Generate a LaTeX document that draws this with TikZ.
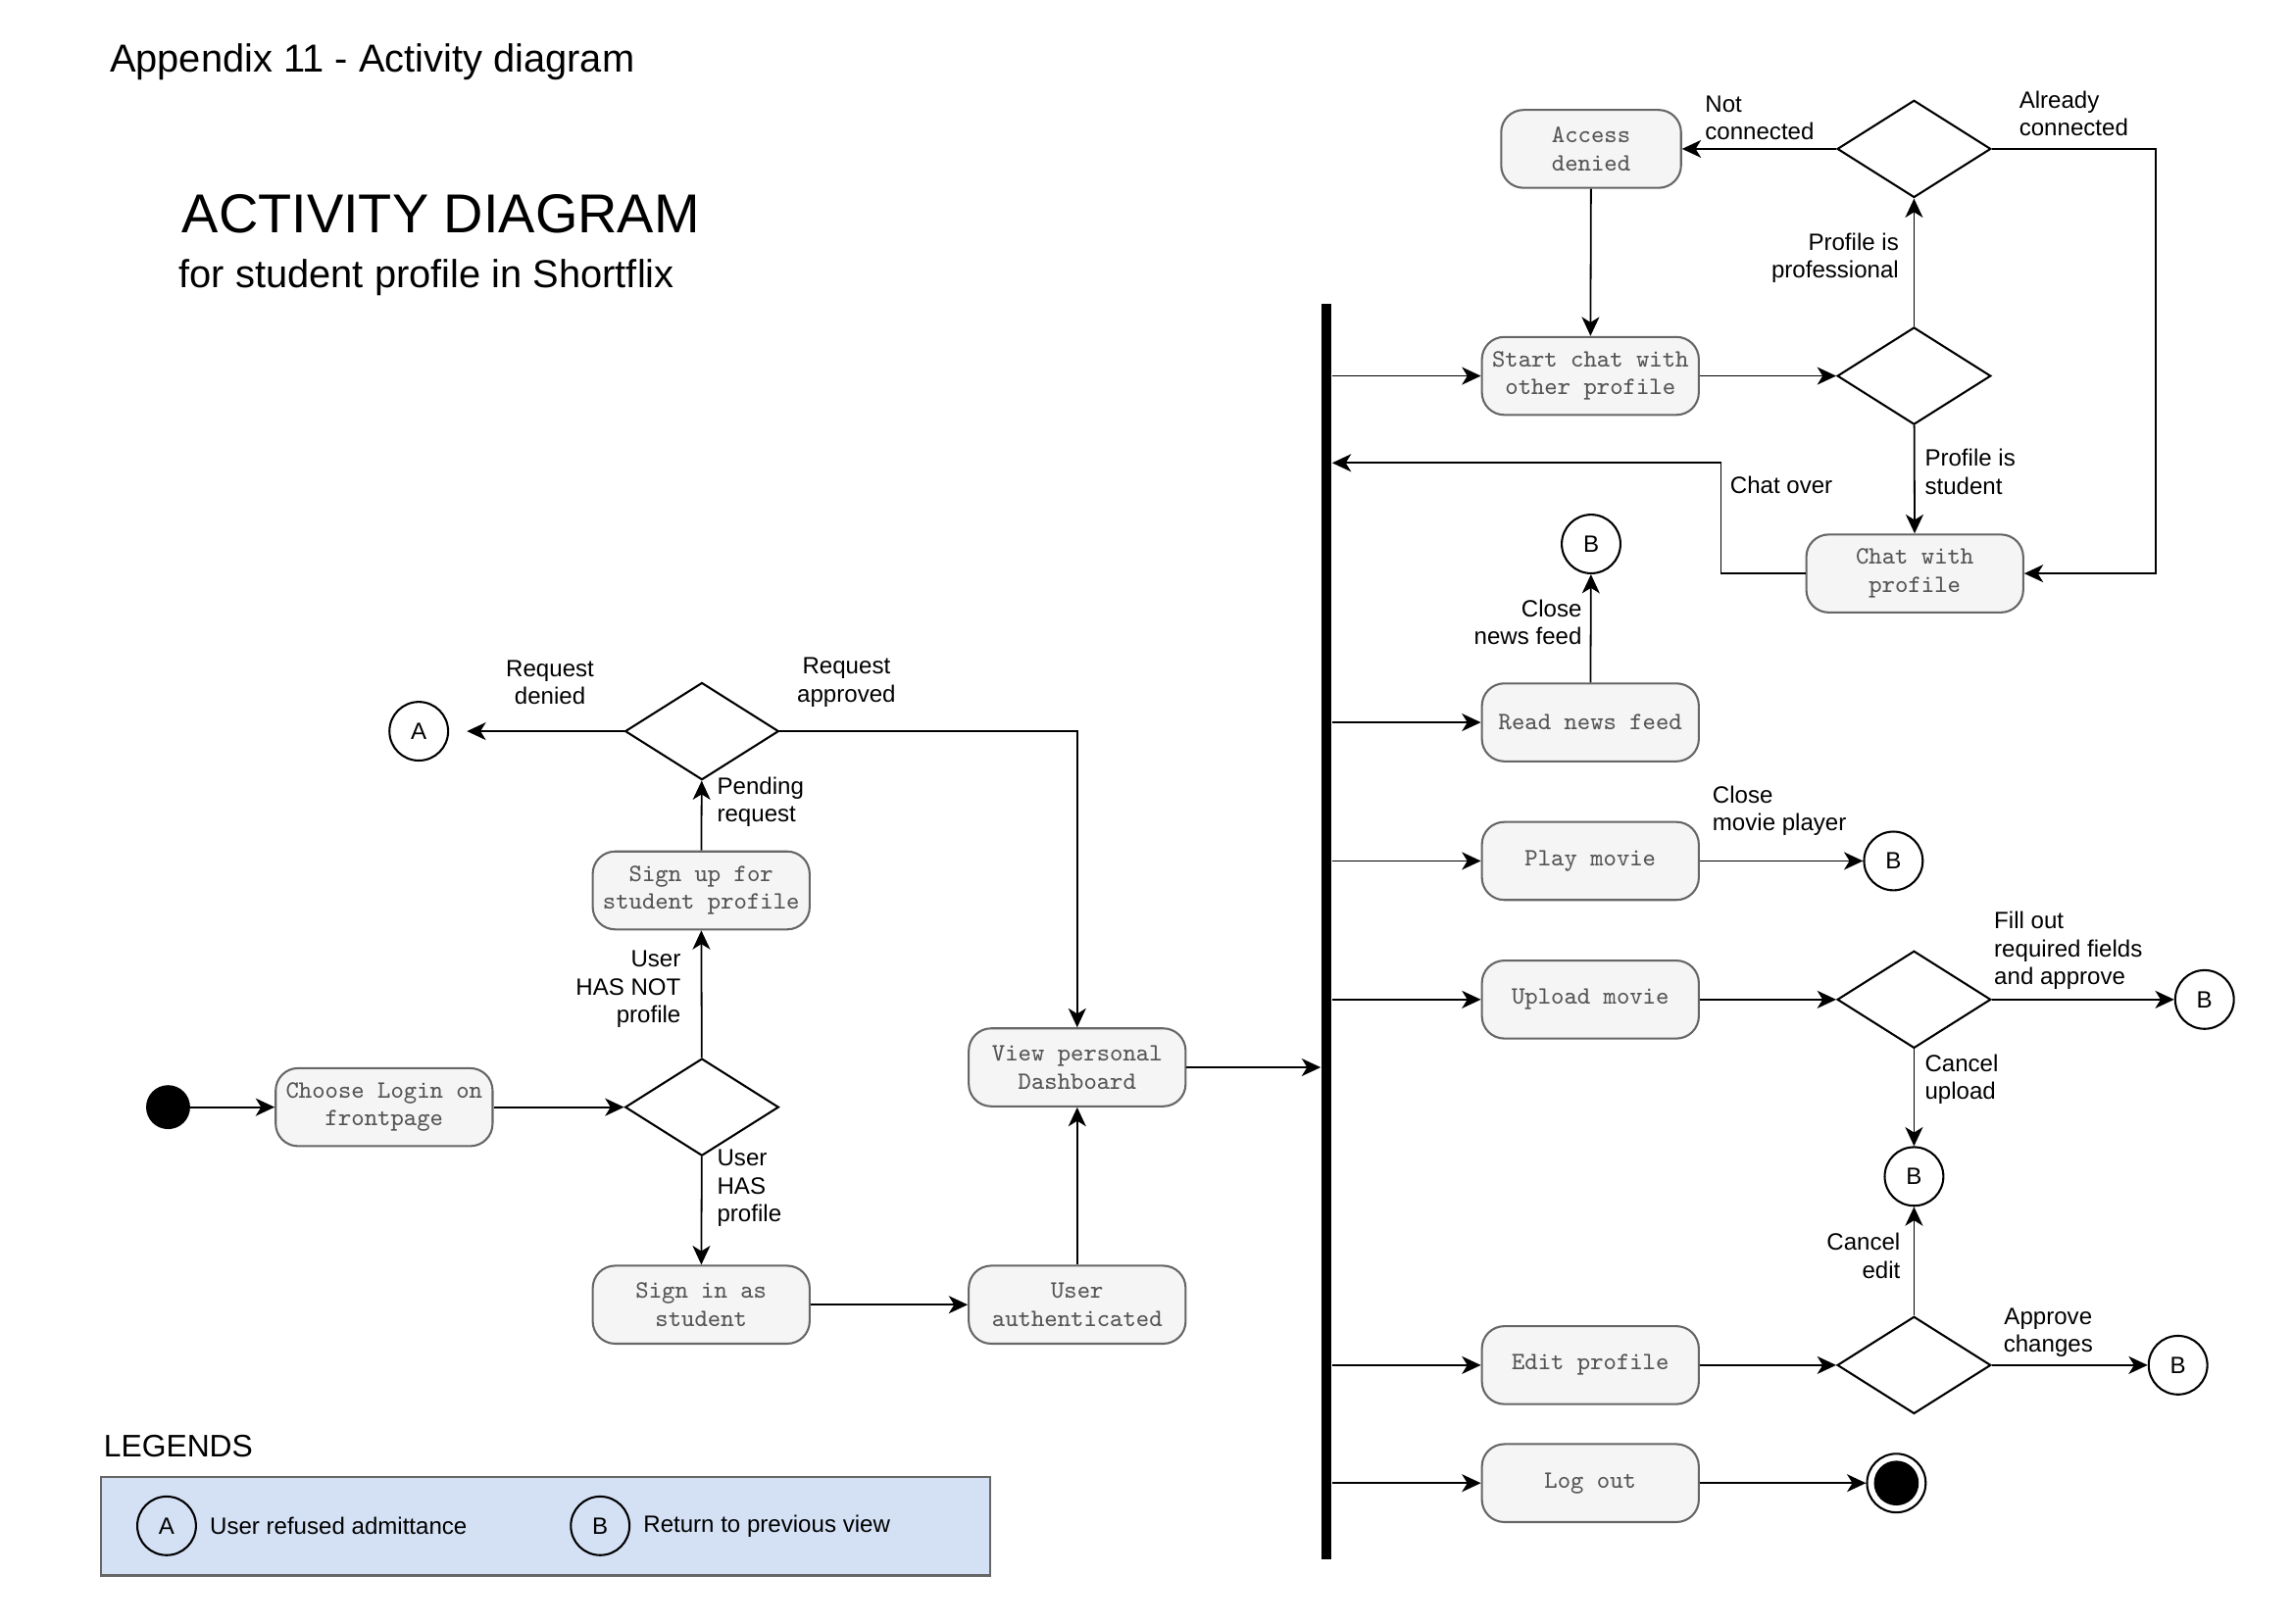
\documentclass[tikz,border=0pt]{standalone}
\usepackage{fontspec}
\setmainfont{Liberation Sans}
\usetikzlibrary{shapes,arrows.meta,positioning}

\definecolor{boxfill}{HTML}{F5F5F5}
\definecolor{boxline}{HTML}{666666}
\definecolor{boxtext}{HTML}{555555}
\definecolor{legendfill}{HTML}{D4E1F5}

\tikzset{
  activity/.style={draw=boxline, fill=boxfill, rounded corners=0.29cm, line width=0.75pt,
    minimum width=2.81cm, minimum height=1.01cm, inner sep=1pt, align=center, text=boxtext,
    font=\ttfamily\fontsize{9.2}{10.3}\selectfont},
  decision/.style={diamond, draw, line width=0.75pt, minimum width=1.99cm, minimum height=1.26cm, inner sep=0pt},
  connector/.style={circle, draw, line width=0.75pt, minimum size=0.76cm, inner sep=0pt, font=\fontsize{8.7}{10}\selectfont},
  guard/.style={inner sep=0pt, font=\fontsize{8.7}{10.3}\selectfont},
  flow/.style={-{Stealth[length=7pt,width=6.5pt,inset=2pt]}, line width=0.65pt},
  startnode/.style={circle, fill, minimum size=0.57cm, inner sep=0pt},
  endnode/.style={circle, draw, line width=0.75pt, minimum size=0.76cm, inner sep=0pt,
    path picture={\fill (path picture bounding box.center) circle (0.29cm);}}
}

\begin{document}
\begin{tikzpicture}[x=0.0191cm, y=-0.0191cm]
    \useasboundingbox (0,0) rectangle (1555,1101);

    \node[anchor=base west, font=\fontsize{14.4}{17}\selectfont] (appendix) at (68,49) {Appendix 11 - Activity diagram};
    \node[anchor=base west, font=\fontsize{20.2}{24}\selectfont] (title) at (117,158) {ACTIVITY DIAGRAM};
    \node[anchor=base west, font=\fontsize{14.4}{17}\selectfont] (subtitle) at (115,195) {for student profile in Shortflix};

    % Login flow
    \node[startnode] (start) at (114,751) {};
    \node[activity] (login) at (260.5,751) {Choose Login on\\frontpage};
    \node[decision] (d1) at (476,751) {};
    \node[activity] (signup) at (475.5,604) {Sign up for\\student profile};
    \node[decision] (d2) at (476,496) {};
    \node[connector] (a1) at (284,496) {A};
    \node[activity] (signin) at (475.5,885) {Sign in as\\student};
    \node[activity] (auth) at (730.5,885) {User\\authenticated};
    \node[activity] (dash) at (730.5,724) {View personal\\Dashboard};

    \draw[flow] (start) -- (login);
    \draw[flow] (login) -- (d1);
    \draw[flow] (d1) -- (signup);
    \draw[flow] (signup) -- (d2);
    \draw[flow] (d1) -- (signin);
    \draw[flow] (signin) -- (auth);
    \draw[flow] (auth) -- (dash);
    \draw[flow, shorten >=0.23cm] (d2.west) -- (a1.east);
    \draw[flow] (d2.east) -| (dash.north);

    \node[guard, align=center] (lreqden) at (373,463) {Request\\denied};
    \node[guard, align=center] (lreqapp) at (574,463) {Request\\approved};
    \node[guard, align=left, anchor=west] (lpend) at (486,544) {Pending\\request};
    \node[guard, align=right, anchor=east] (lnot) at (462,671) {User\\HAS NOT\\profile};
    \node[guard, align=left, anchor=west] (lhas) at (486,806) {User\\HAS\\profile};

    % Fork bar
    \node[fill, minimum width=0.134cm, minimum height=16.27cm, inner sep=0pt] (fork) at (899.5,632) {};
    \draw[flow] (dash.east) -- (fork.west |- dash);

    % Chat
    \node[activity] (chatstart) at (1078.5,255) {Start chat with\\other profile};
    \node[activity, minimum width=2.33cm] (denied) at (1079,101) {Access\\denied};
    \node[activity] (chatp) at (1298.5,389) {Chat with\\profile};
    \node[decision] (d3) at (1298,101) {};
    \node[decision] (d4) at (1298,255) {};
    \coordinate (overturn) at (1167,314);

    \draw[flow] (fork.east |- chatstart) -- (chatstart);
    \draw[flow] (chatstart) -- (d4);
    \draw[flow] (d4) -- (d3);
    \draw[flow] (d4) -- (chatp);
    \draw[flow] (d3) -- (denied);
    \draw[flow] (denied) -- (chatstart);
    \draw[flow] (d3.east) -- ++(111,0) |- (chatp.east);
    \draw[flow] (chatp.west) -| (overturn) -- (fork.east |- overturn);

    \node[guard, align=left, anchor=west] (lnotcon) at (1156,80) {Not\\connected};
    \node[guard, align=left, anchor=west] (lalready) at (1369,77) {Already\\connected};
    \node[guard, align=right, anchor=east] (lprof) at (1288,175) {Profile is\\professional};
    \node[guard, align=left, anchor=west] (lstud) at (1305,320) {Profile is\\student};
    \node[guard] (lover) at (1208,329) {Chat over};

    % Other activities
    \node[activity] (news) at (1078.5,490) {Read news feed};
    \node[activity] (play) at (1078.5,584) {Play movie};
    \node[activity] (upload) at (1078.5,678) {Upload movie};
    \node[activity] (edit) at (1078.5,926) {Edit profile};
    \node[activity] (logout) at (1078.5,1006) {Log out};
    \node[decision] (d5) at (1298,678) {};
    \node[decision] (d6) at (1298,926) {};
    \node[connector] (b1) at (1079,369) {B};
    \node[connector] (b2) at (1284,584) {B};
    \node[connector] (b3) at (1495,678) {B};
    \node[connector] (b4) at (1298,798) {B};
    \node[connector] (b5) at (1477,926) {B};
    \node[endnode] (stop) at (1286,1006) {};

    \foreach \act in {news,play,upload,edit,logout}
        \draw[flow] (fork.east |- \act) -- (\act);
    \draw[flow] (news) -- (b1);
    \draw[flow] (play) -- (b2);
    \draw[flow] (upload) -- (d5);
    \draw[flow] (d5) -- (b3);
    \draw[flow] (d5) -- (b4);
    \draw[flow] (edit) -- (d6);
    \draw[flow] (d6) -- (b4);
    \draw[flow] (d6) -- (b5);
    \draw[flow] (logout) -- (stop);

    \node[guard, align=right, anchor=east] (lnews) at (1073,422) {Close\\news feed};
    \node[guard, align=left, anchor=west] (lplayer) at (1161,550) {Close\\movie player};
    \node[guard, align=left, anchor=west] (lfill) at (1352,645) {Fill out\\required fields\\and approve};
    \node[guard, align=left, anchor=west] (lcanup) at (1305,732) {Cancel\\upload};
    \node[guard, align=right, anchor=east] (lcanedit) at (1289,852) {Cancel\\edit};
    \node[guard, align=center] (lappr) at (1389,904) {Approve\\changes};

    % Legend
    \node[anchor=base west, inner sep=0pt, font=\fontsize{11.5}{14}\selectfont] (legtitle) at (70,988) {LEGENDS};
    \node[draw=boxline, fill=legendfill, line width=0.75pt, anchor=north west, minimum width=11.52cm, minimum height=1.28cm] (legend) at (68,1001) {};
    \node[connector] (la) at (113,1035) {A};
    \node[guard, anchor=west] (latext) at (142,1035) {User refused admittance};
    \node[connector] (lb) at (407,1035) {B};
    \node[guard, anchor=west] (lbtext) at (436,1035) {Return to previous view};
\end{tikzpicture}
\end{document}
